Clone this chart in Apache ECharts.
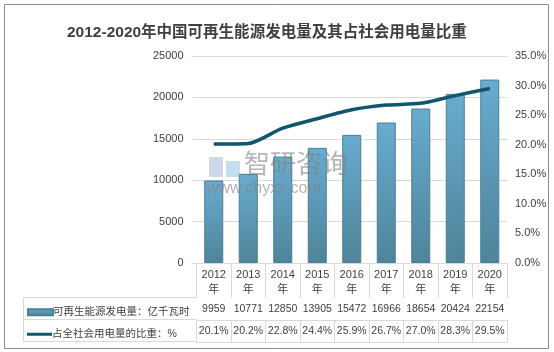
<!DOCTYPE html>
<html>
<head>
<meta charset="utf-8">
<script src="https://cdn.jsdelivr.net/npm/echarts@6/dist/echarts.min.js"></script>
<style>
  html, body { margin: 0; padding: 0; background: #fff; }
  #chart { width: 554px; height: 352px; }
</style>
</head>
<body>
<div id="chart"></div>
<script>
// 数据:年份、发电量(亿千瓦时)、占全社会用电量比重(%)
const years = ["2012", "2013", "2014", "2015", "2016", "2017", "2018", "2019", "2020"];
const power = [9959, 10771, 12850, 13905, 15472, 16966, 18654, 20424, 22154];
const share = [20.1, 20.2, 22.8, 24.4, 25.9, 26.7, 27.0, 28.3, 29.5];
const barName = "可再生能源发电量：亿千瓦时";
const lineName = "占全社会用电量的比重：%";

const FONT = "'Liberation Sans', 'Noto Sans CJK SC', sans-serif";
const TXT = "#404040";
const GRID = "#d9d9d9";

const chart = echarts.init(document.getElementById("chart"));

// 表格的一行:同一 grid 里加一根类目轴,往下偏移
function tableAxis(offset, data, fmt) {
  return {
    type: "category", gridIndex: 0, position: "bottom", offset,
    data,
    axisLine: { show: true, lineStyle: { color: GRID } },
    axisTick: { show: true, length: 22, interval: 0, lineStyle: { color: GRID } },
    axisLabel: {
      show: !!fmt, interval: 0, margin: 5, fontSize: 10.5, lineHeight: 13,
      color: TXT, fontFamily: FONT, formatter: fmt || "{value}"
    },
    splitLine: { show: false }
  };
}

chart.setOption({
  animation: false,
  title: {
    text: "2012-2020年中国可再生能源发电量及其占社会用电量比重",
    left: 62, top: 20,
    textStyle: { fontSize: 15.5, fontWeight: "bold", color: TXT, fontFamily: FONT }
  },
  grid: { left: 196.5, right: 47, top: 56, bottom: 89 },
  legend: [
    {
      data: [{ name: barName, icon: "rect" }],
      left: 22, top: 302, itemWidth: 25, itemHeight: 6, itemGap: 0,
      textStyle: { fontSize: 10.5, color: TXT, fontFamily: FONT, padding: [0, 0, 0, -5] },
      selectedMode: false
    },
    {
      data: [{ name: lineName, icon: "rect" }],
      left: 22, top: 324, itemWidth: 25, itemHeight: 3, itemGap: 0,
      textStyle: { fontSize: 10.5, color: TXT, fontFamily: FONT, padding: [0, 0, 0, -5] },
      selectedMode: false
    }
  ],
  xAxis: [
    {
      type: "category", data: years,
      axisLine: { show: true, lineStyle: { color: GRID } },
      axisTick: { show: true, length: 35, interval: 0, lineStyle: { color: GRID } },
      axisLabel: {
        interval: 0, margin: 4, fontSize: 11, lineHeight: 15, color: TXT, fontFamily: FONT,
        formatter: v => v + "\n年"
      }
    },
    tableAxis(35, power, v => String(v)),
    tableAxis(57, share, v => Number(v).toFixed(1) + "%"),
    {
      type: "category", gridIndex: 0, position: "bottom", offset: 79, data: years,
      axisLine: { show: true, lineStyle: { color: GRID } },
      axisTick: { show: false }, axisLabel: { show: false }
    }
  ],
  yAxis: [
    {
      type: "value", min: 0, max: 25000, interval: 5000,
      axisLine: { show: false },
      axisTick: { show: true, length: 5, lineStyle: { color: GRID } },
      axisLabel: { margin: 13, fontSize: 11, color: TXT, fontFamily: FONT, formatter: v => String(v) },
      splitLine: { lineStyle: { color: GRID } }
    },
    {
      type: "value", min: 0, max: 35, interval: 5,
      axisLine: { show: false }, axisTick: { show: false },
      axisLabel: {
        margin: 8, fontSize: 11, color: TXT, fontFamily: FONT,
        formatter: v => v.toFixed(1) + "%"
      },
      splitLine: { show: false }
    }
  ],
  series: [
    {
      name: barName, type: "bar", data: power, barWidth: 19,
      itemStyle: {
        color: new echarts.graphic.LinearGradient(0, 0, 0, 1, [
          { offset: 0, color: "#68acd0" },
          { offset: 1, color: "#4e8499" }
        ]),
        borderColor: "#4a7f95", borderWidth: 1
      }
    },
    {
      name: lineName, type: "line", yAxisIndex: 1, data: share,
      smooth: 0.25, showSymbol: false, symbol: "none",
      lineStyle: { color: "#0f5670", width: 3.5 },
      itemStyle: { color: "#0f5670" }
    }
  ],
  graphic: [
    // 外框
    { type: "rect", shape: { x: 4.5, y: 4.5, width: 544, height: 344 },
      style: { fill: "none", stroke: "#8c8c8c", lineWidth: 1 }, silent: true },
    // 表格左侧图例列的框线
    { type: "polyline", shape: { points: [[196.5, 297.5], [23.5, 297.5], [23.5, 341.5], [196.5, 341.5]] },
      style: { fill: "none", stroke: GRID, lineWidth: 1 }, silent: true },
    { type: "line", shape: { x1: 23.5, y1: 319.5, x2: 196.5, y2: 319.5 },
      style: { stroke: GRID, lineWidth: 1 }, silent: true },
    // 水印
    { type: "rect", shape: { x: 209, y: 157, width: 14, height: 20 },
      style: { fill: "rgba(120,140,190,0.35)" }, silent: true, z: 100 },
    { type: "rect", shape: { x: 226, y: 161, width: 14, height: 16 },
      style: { fill: "rgba(110,170,220,0.4)" }, silent: true, z: 100 },
    { type: "text", x: 244, y: 153, silent: true, z: 100,
      style: { text: "智研咨询", fontSize: 26, fontFamily: FONT, fill: "rgba(130,130,130,0.6)" } },
    { type: "text", x: 207, y: 181, silent: true, z: 100,
      style: { text: "www.chyxx.com", fontSize: 16, fontFamily: FONT, fill: "rgba(130,130,130,0.6)" } }
  ]
});
</script>
</body>
</html>
